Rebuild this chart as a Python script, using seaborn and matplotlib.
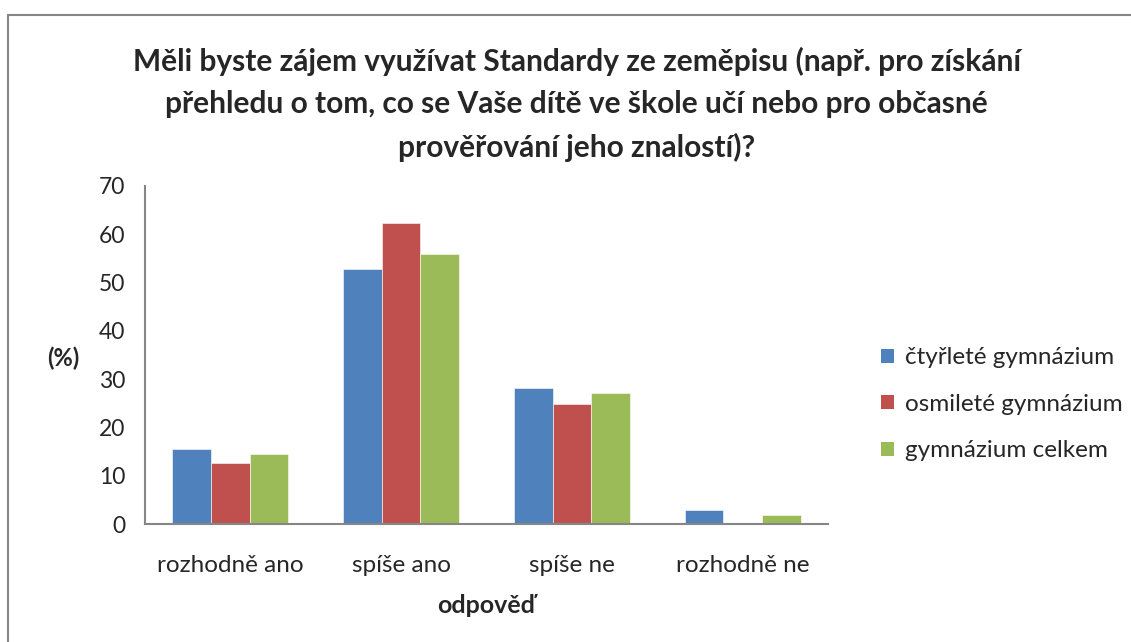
import pandas as pd
import matplotlib
matplotlib.use("Agg")
import matplotlib.pyplot as plt
import seaborn as sns
from matplotlib.lines import Line2D
from matplotlib.patches import Patch

# Data
categories = ["rozhodně ano", "spíše ano", "spíše ne", "rozhodně ne"]
series = ["čtyřleté gymnázium", "osmileté gymnázium", "gymnázium celkem"]
ctyrlete = [15.5, 52.9, 28.1, 2.9]
osmilete = [12.6, 62.3, 24.8, 0.0]
celkem = [14.6, 55.9, 27.1, 1.9]
colors = ["#4F81BD", "#C0504D", "#9BBB59"]

title = ("Měli byste zájem využívat Standardy ze zeměpisu (např. pro získání\n"
         "přehledu o tom, co se Vaše dítě ve škole učí nebo pro občasné\n"
         "prověřování jeho znalostí)?")

# Long-form table for seaborn
df = pd.DataFrame({
    "odpověď": categories * 3,
    "skupina": [series[0]] * 4 + [series[1]] * 4 + [series[2]] * 4,
    "hodnota": ctyrlete + osmilete + celkem,
})

sns.set_style("white")
plt.rcParams["font.family"] = ["Lato", "DejaVu Sans"]
axis_gray = "#868686"

fig = plt.figure(figsize=(11.31, 6.42), dpi=100)
ax = fig.add_axes([0.1282, 0.1838, 0.7321 - 0.1282, 0.7103 - 0.1838])

sns.barplot(
    data=df, x="odpověď", y="hodnota", hue="skupina",
    order=categories, hue_order=series, palette=colors,
    width=0.68, gap=0, saturation=1, legend=False, ax=ax,
    edgecolor="white", linewidth=0.4,
)

ax.set_xlim(-0.5, len(categories) - 0.5)
ax.set_ylim(0, 70)
ax.set_yticks(range(0, 71, 10))

# category boundaries carry the tick marks, labels sit at centres
ax.set_xticks(range(len(categories)))
ax.set_xticklabels(categories, fontsize=17.5)
ax.set_xticks([i - 0.5 for i in range(len(categories) + 1)], minor=True)
ax.tick_params(axis="x", which="major", length=0, pad=22)
ax.tick_params(axis="x", which="minor", length=6, width=1.2, color=axis_gray, direction="out")
ax.tick_params(axis="y", length=6, width=1.2, color=axis_gray, direction="out", labelsize=16.5, pad=8)

for side in ["top", "right"]:
    ax.spines[side].set_visible(False)
for side in ["left", "bottom"]:
    ax.spines[side].set_color(axis_gray)
    ax.spines[side].set_linewidth(1.5)

ax.set_xlabel("odpověď", fontsize=18, fontweight="bold", labelpad=13)
ax.set_ylabel("(%)", fontsize=17, fontweight="bold", rotation=0, va="center", ha="center")
ax.yaxis.set_label_coords(-0.12, 0.49)

fig.text(0.51, 1 - 47 / 642, title, ha="center", va="top", fontsize=21.5,
         fontweight="bold", linespacing=1.62)

handles = [Patch(facecolor=c, edgecolor="none") for c in colors]
fig.legend(handles, series, loc="upper left", bbox_to_anchor=(0.760, 0.493),
           frameon=False, fontsize=17.5, handlelength=0.5, handleheight=0.5,
           handletextpad=0.45, labelspacing=1.05)

# chart frame as drawn in the original (top and left edges visible)
fig.add_artist(Line2D([8 / 1131, 1.0], [1 - 15 / 642, 1 - 15 / 642],
                      transform=fig.transFigure, color=axis_gray, linewidth=1.5))
fig.add_artist(Line2D([8 / 1131, 8 / 1131], [0.0, 1 - 15 / 642],
                      transform=fig.transFigure, color=axis_gray, linewidth=1.5))

fig.savefig("out.png", dpi=100)
